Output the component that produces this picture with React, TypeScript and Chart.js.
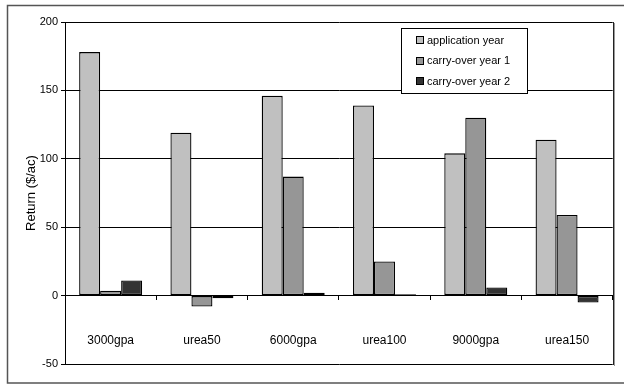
import React, { useEffect, useRef } from "react";
import { Chart, registerables } from "chart.js";

Chart.register(...registerables);

const categories = ["3000gpa", "urea50", "6000gpa", "urea100", "9000gpa", "urea150"];
const applicationYear = [178, 119, 146, 139, 104, 114];
const carryOverYear1 = [3.5, -8, 87, 25, 130, 59];
const carryOverYear2 = [11, -2, 2, 1, 6, -5];
const seriesLabels = ["application year", "carry-over year 1", "carry-over year 2"];
const seriesColors = ["#c0c0c0", "#969696", "#333333"];
const yMin = -50;
const yMax = 200;
const yStep = 50;
const yTitle = "Return ($/ac)";

const FONT = "'Liberation Sans', Arial, sans-serif";

const framePlugin = {
  id: "frame",
  afterDraw(chart: any) {
    const { ctx, chartArea } = chart;
    ctx.save();
    // right plot border
    ctx.strokeStyle = "#222";
    ctx.lineWidth = 1;
    ctx.beginPath();
    ctx.moveTo(Math.round(chartArea.right) + 0.5, chartArea.top);
    ctx.lineTo(Math.round(chartArea.right) + 0.5, chartArea.bottom + 1);
    ctx.stroke();
    ctx.strokeStyle = "#999";
    ctx.beginPath();
    ctx.moveTo(Math.round(chartArea.right) + 1.5, chartArea.top + 1);
    ctx.lineTo(Math.round(chartArea.right) + 1.5, chartArea.bottom + 2);
    ctx.stroke();
    // outer border
    ctx.strokeStyle = "#555";
    ctx.lineWidth = 1.5;
    ctx.strokeRect(7.5, 5.5, 640, 377.5);

    // legend
    const lx = 401.5, ly = 28.5, lw = 126, lh = 65;
    ctx.fillStyle = "#fff";
    ctx.fillRect(lx, ly, lw, lh);
    ctx.strokeStyle = "#000";
    ctx.lineWidth = 1;
    ctx.strokeRect(lx, ly, lw, lh);
    ctx.font = `11px ${FONT}`;
    ctx.textBaseline = "middle";
    ctx.textAlign = "left";
    chart.data.datasets.forEach((ds: any, i: number) => {
      const cy = 40 + i * 20.5;
      ctx.fillStyle = ds.backgroundColor;
      ctx.fillRect(416.5, Math.round(cy - 4) + 0.5, 7, 7);
      ctx.strokeStyle = "#000";
      ctx.strokeRect(416.5, Math.round(cy - 4) + 0.5, 7, 7);
      ctx.fillStyle = "#000";
      ctx.fillText(ds.label, 427, cy + 0.5);
    });
    ctx.restore();
  },
};

export default function App() {
  const ref = useRef<HTMLCanvasElement | null>(null);
  useEffect(() => {
    if (!ref.current) return;
    const series = [applicationYear, carryOverYear1, carryOverYear2];
    const chart = new Chart(ref.current, {
      type: "bar",
      data: {
        labels: categories,
        datasets: series.map((d, i) => ({
          label: seriesLabels[i],
          data: d,
          backgroundColor: seriesColors[i],
          borderColor: "#000",
          borderWidth: 1.3,
          borderSkipped: false,
          categoryPercentage: 0.69,
          barPercentage: 1.0,
        })),
      },
      options: {
        responsive: false,
        animation: false,
        layout: { padding: { left: 0, top: 22, right: 11, bottom: 21 } },
        plugins: { legend: { display: false }, tooltip: { enabled: false } },
        scales: {
          x: {
            position: { y: 0 } as any,
            offset: true,
            grid: { display: true, drawOnChartArea: false, drawTicks: true, tickLength: 4, color: "#000", offset: true },
            border: { display: true, color: "#000", width: 1 },
            ticks: { padding: 34, color: "#000", font: { family: FONT, size: 12 }, maxRotation: 0, autoSkip: false },
          },
          y: {
            min: yMin,
            max: yMax,
            ticks: { stepSize: yStep, color: "#000", font: { family: FONT, size: 11 }, padding: 3 },
            grid: { color: "#000", tickLength: 4, lineWidth: 1 },
            border: { display: true, color: "#000" },
            title: {
              display: true,
              text: yTitle,
              color: "#000",
              font: { family: FONT, size: 13 },
              padding: { top: 24, bottom: 0 },
            },
            afterFit: (s: any) => {
              s.width = 65;
            },
          },
        },
      },
      plugins: [framePlugin],
    });
    return () => chart.destroy();
  }, []);
  return (
    <div style={{ position: "absolute", left: 0, top: 0, width: 624, height: 385, background: "#fff" }}>
      <canvas ref={ref} width={624} height={385} style={{ display: "block" }} />
    </div>
  );
}
